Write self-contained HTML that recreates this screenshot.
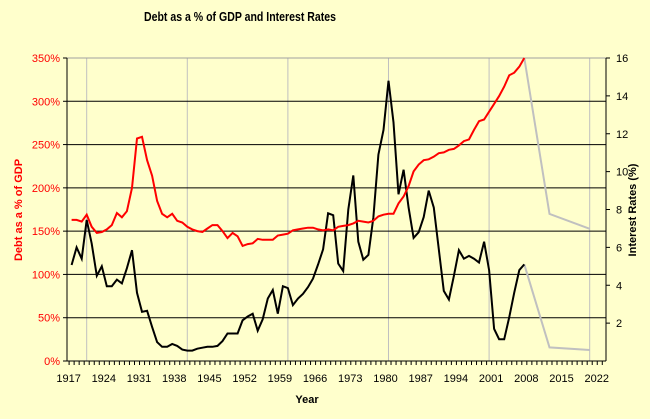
<!DOCTYPE html>
<html><head><meta charset="utf-8"><style>
html,body{margin:0;padding:0;background:#FFFFCC;}
svg{display:block;font-family:"Liberation Sans",Arial,sans-serif;}
</style></head><body>
<svg id="chart" width="650" height="419" viewBox="0 0 650 419">
<rect x="0" y="0" width="650" height="419" fill="#FFFFCC"/>
<text x="240" y="21" text-anchor="middle" font-size="13" font-weight="bold" textLength="192" lengthAdjust="spacingAndGlyphs">Debt as a % of GDP and Interest Rates</text>
<g id="grid"></g>
<g id="axes"></g>
<g id="series"></g>
<text x="307" y="403" text-anchor="middle" font-size="11" font-weight="bold">Year</text>
<text transform="translate(22,210) rotate(-90)" text-anchor="middle" font-size="11" font-weight="bold" fill="#FF0000">Debt as a % of GDP</text>
<text transform="translate(636,210) rotate(-90)" text-anchor="middle" font-size="11" font-weight="bold">Interest Rates (%)</text>
</svg>
<script>
const debtYears = [1917,1918,1919,1920,1921,1922,1923,1924,1925,1926,1927,1928,1929,1930,1931,1932,1933,1934,1935,1936,1937,1938,1939,1940,1941,1942,1943,1944,1945,1946,1947,1948,1949,1950,1951,1952,1953,1954,1955,1956,1957,1958,1959,1960,1961,1962,1963,1964,1965,1966,1967,1968,1969,1970,1971,1972,1973,1974,1975,1976,1977,1978,1979,1980,1981,1982,1983,1984,1985,1986,1987,1988,1989,1990,1991,1992,1993,1994,1995,1996,1997,1998,1999,2000,2001,2002,2003,2004,2005,2006,2007];
const debtValues = [163,163,161,169,155,148,149,152,157,171,166,173,200,257,259,232,214,185,170,166,170,162,160,155,152,150,149,153,157,157,150,142,148,144,133,135,136,141,140,140,140,145,146,147,151,152,153,154,154,152,151,152,151,155,156,157,159,162,161,160,162,167,169,170,170,182,190,202,219,227,232,233,236,240,241,244,245,249,254,256,267,277,279,288,297,306,317,330,333,340,350];
const rateYears = [1917,1918,1919,1920,1921,1922,1923,1924,1925,1926,1927,1928,1929,1930,1931,1932,1933,1934,1935,1936,1937,1938,1939,1940,1941,1942,1943,1944,1945,1946,1947,1948,1949,1950,1951,1952,1953,1954,1955,1956,1957,1958,1959,1960,1961,1962,1963,1964,1965,1966,1967,1968,1969,1970,1971,1972,1973,1974,1975,1976,1977,1978,1979,1980,1981,1982,1983,1984,1985,1986,1987,1988,1989,1990,1991,1992,1993,1994,1995,1996,1997,1998,1999,2000,2001,2002,2003,2004,2005,2006,2007];
const rateValues = [5.07,6.0,5.4,7.45,6.2,4.5,5.0,3.95,3.95,4.3,4.1,4.9,5.85,3.6,2.6,2.65,1.8,1.0,0.75,0.75,0.9,0.8,0.6,0.55,0.55,0.65,0.7,0.75,0.75,0.8,1.05,1.45,1.45,1.45,2.15,2.35,2.5,1.6,2.2,3.3,3.75,2.5,3.95,3.85,2.95,3.3,3.55,3.9,4.35,5.1,5.9,7.8,7.7,5.15,4.75,8.0,9.8,6.3,5.35,5.6,7.6,10.9,12.2,14.8,12.6,8.8,10.1,8.1,6.5,6.8,7.6,9.0,8.1,5.9,3.7,3.25,4.5,5.85,5.4,5.55,5.4,5.2,6.3,4.8,1.7,1.15,1.15,2.3,3.6,4.8,5.1];
const projYears = [2007,2012,2020];
const projUpper = [16,7.77,6.98];
const projLower = [5.1,0.72,0.58];
const leftTicks = [0,50,100,150,200,250,300,350];
const rightTicks = [2,4,6,8,10,12,14,16];
const xTickYears = [1917,1924,1931,1938,1945,1952,1959,1966,1973,1980,1987,1994,2001,2008,2015,2022];
const vGridYears = [1920,1940,1960,1980,2000,2020];

const L=67, R=606, T=58, B=361;
const NS='http://www.w3.org/2000/svg';
function xS(yr){return 71.6+(yr-1917)*5.03;}
function yL(p){return B-(p/350)*(B-T);}
function yR(r){return B-(r/16)*(B-T);}
function mk(tag,attrs,parent){const e=document.createElementNS(NS,tag);for(const k in attrs)e.setAttribute(k,attrs[k]);parent.appendChild(e);return e;}
const grid=document.getElementById('grid'), axes=document.getElementById('axes'), ser=document.getElementById('series');

vGridYears.forEach(yr=>{
  const l=mk('line',{x1:xS(yr),x2:xS(yr),y1:T,y2:B,stroke:'#C0C0C0','stroke-width':1},grid);
  
  
});
leftTicks.forEach(v=>{
  const y=yL(v);
  if(v>0&&v<350){
    const g=mk('line',{x1:L,x2:R,y1:y,y2:y,stroke:'#000','stroke-width':1},grid);
    
    
  }
  mk('line',{x1:L-4,x2:L,y1:y,y2:y,stroke:'#000'},axes);
  const t=mk('text',{x:L-7,y:y+4,'text-anchor':'end','font-size':11,fill:'#FF0000'},axes);
  t.textContent=v+'%';
  
  
});
mk('line',{x1:L,x2:R,y1:T,y2:T,stroke:'#A0A0A0'},grid);
rightTicks.forEach(v=>{
  const y=yR(v);
  mk('line',{x1:R,x2:R+4,y1:y,y2:y,stroke:'#000'},axes);
  const t=mk('text',{x:R+10,y:y+4,'text-anchor':'start','font-size':11,fill:'#000'},axes);
  t.textContent=v;
  
  
});
mk('line',{x1:L,x2:L,y1:T,y2:B,stroke:'#000'},axes);
mk('line',{x1:R,x2:R,y1:T,y2:B,stroke:'#000'},axes);
mk('line',{x1:L,x2:R,y1:B,y2:B,stroke:'#000'},axes);
for(let yr=1917;yr<=2023;yr++){
  const x=xS(yr)-2.5;
  mk('line',{x1:x,x2:x,y1:B,y2:B+4,stroke:'#000'},axes);
}
xTickYears.forEach(yr=>{
  const t=mk('text',{x:xS(yr)-3,y:382,'text-anchor':'middle','font-size':11},axes);
  t.textContent=yr;
  
  
});
function pts(xs,vs,f){return xs.map((yr,i)=>xS(yr).toFixed(1)+','+f(vs[i]).toFixed(1)).join(' ');}
const pu=mk('polyline',{points:pts(projYears,projUpper,yR),fill:'none',stroke:'#C0C0C0','stroke-width':2},ser);


const pl=mk('polyline',{points:pts(projYears,projLower,yR),fill:'none',stroke:'#C0C0C0','stroke-width':2},ser);


const rl=mk('polyline',{points:pts(rateYears,rateValues,yR),fill:'none',stroke:'#000','stroke-width':2},ser);


const dl=mk('polyline',{points:pts(debtYears,debtValues,yL),fill:'none',stroke:'#FF0000','stroke-width':2},ser);


</script>
</body></html>
